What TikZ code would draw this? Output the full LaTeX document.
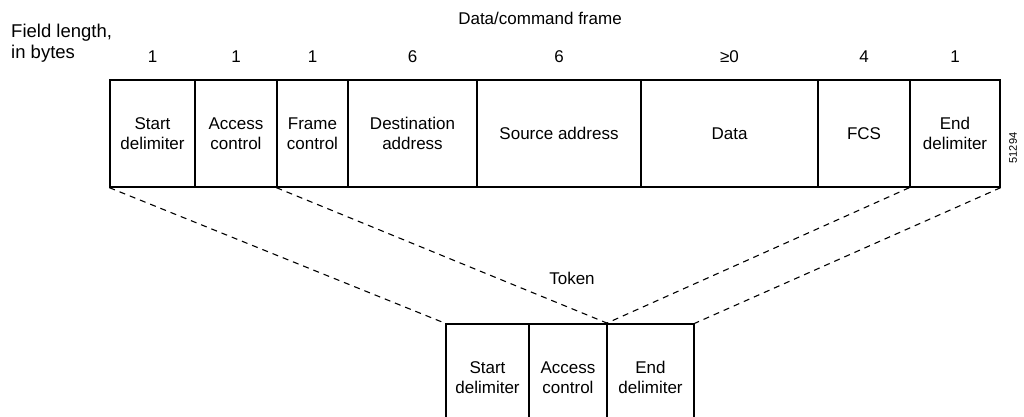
\documentclass[tikz,border=0pt]{standalone}
\usepackage{fontspec}
\setmainfont{Liberation Sans}
\begin{document}
\begin{tikzpicture}[x=1pt,y=-1pt,
  txt/.style={inner sep=0pt, align=center, font=\fontsize{17}{20}\selectfont},
  cell/.style={draw, line width=1.3pt, minimum height=107pt, inner sep=0pt,
               align=center, font=\fontsize{17}{20}\selectfont},
  len/.style={txt, anchor=base},
  link/.style={line width=1.1pt, dash pattern=on 6pt off 5pt}]
\useasboundingbox (0,0) rectangle (1024,416);
\begin{scope}
\clip (0,0) rectangle (1024,416);

% header texts
\node[txt, anchor=base] (title) at (540,24) {Data/command frame};
\node[txt, anchor=base west, align=left, font=\fontsize{18.5}{20}\selectfont] (fl) at (11,37) {Field length,};
\node[txt, anchor=base west, align=left, font=\fontsize{18.5}{20}\selectfont] (ib) at (11,58) {in bytes};

% data/command frame fields
\node[cell, minimum width=85pt]  (sd) at (152.5,133.5) {Start\\delimiter};
\node[cell, minimum width=82pt]  (ac) at (236,133.5)   {Access\\control};
\node[cell, minimum width=71pt]  (fc) at (312.5,133.5) {Frame\\control};
\node[cell, minimum width=129pt] (da) at (412.5,133.5) {Destination\\address};
\node[cell, minimum width=164pt] (sa) at (559,133.5)   {Source address};
\node[cell, minimum width=177pt] (dt) at (729.5,133.5) {Data};
\node[cell, minimum width=92pt]  (fcs) at (864,133.5)  {FCS};
\node[cell, minimum width=90pt]  (ed) at (955,133.5)   {End\\delimiter};

% field lengths
\node[len] (n1) at (sd.center |- 0,62)  {1};
\node[len] (n2) at (ac.center |- 0,62)  {1};
\node[len] (n3) at (fc.center |- 0,62)  {1};
\node[len] (n4) at (da.center |- 0,62)  {6};
\node[len] (n5) at (sa.center |- 0,62)  {6};
\node[len] (n6) at (dt.center |- 0,62)  {≥0};
\node[len] (n7) at (fcs.center |- 0,62) {4};
\node[len] (n8) at (ed.center |- 0,62)  {1};

% figure number
\node[inner sep=0pt, rotate=90, font=\fontsize{11}{13}\selectfont] (fig) at (1013,148) {51294};

% token
\node[txt, anchor=base] (tk) at (572,284) {Token};
\node[cell, minimum width=83pt] (tsd) at (487.5,377.5) {Start\\delimiter};
\node[cell, minimum width=78pt] (tac) at (568,377.5)   {Access\\control};
\node[cell, minimum width=87pt] (ted) at (650.5,377.5) {End\\delimiter};

% expansion lines from the frame down to the token
\draw[link] (sd.south west) -- (tsd.north west);
\draw[link] (fc.south west) -- (tac.north east);
\draw[link] (ed.south west) -- (ted.north west);
\draw[link] (ed.south east) -- (ted.north east);
\end{scope}
\end{tikzpicture}
\end{document}
